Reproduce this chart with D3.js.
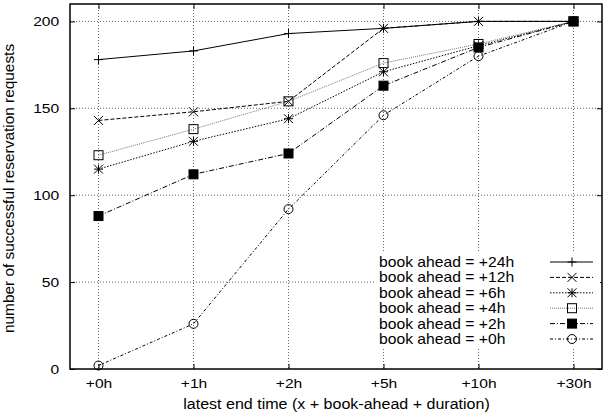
<!DOCTYPE html>
<html>
<head>
<meta charset="utf-8">
<script src="https://cdn.jsdelivr.net/npm/d3@7"></script>
<style>
  body { margin: 0; background: #fff; }
  text { font-family: "Liberation Sans", Arial, sans-serif; fill: #000; }
</style>
</head>
<body>
<div id="chart"></div>
<script>
// data
var xLabels = ["+0h", "+1h", "+2h", "+5h", "+10h", "+30h"];
var yTicks = [0, 50, 100, 150, 200];
var seriesNames = ["book ahead = +24h", "book ahead = +12h", "book ahead = +6h",
                   "book ahead = +4h", "book ahead = +2h", "book ahead = +0h"];
var ahead24 = [178, 183, 193, 196, 200, 200];
var ahead12 = [143, 148, 154, 196, 200, 200];
var ahead6  = [115, 131, 144, 171, 186, 200];
var ahead4  = [123, 138, 154, 176, 187, 200];
var ahead2  = [88, 112, 124, 163, 185, 200];
var ahead0  = [2, 26, 92, 146, 180, 200];

var seriesValues = [ahead24, ahead12, ahead6, ahead4, ahead2, ahead0];
var dashes  = [null, "4,2", "1.5,1.5", "1,1", "5,2,1,2", "3,2,1,2"];
var strokes = ["#000", "#000", "#000", "#777", "#000", "#000"];
var markers = ["plus", "cross", "star", "box", "fbox", "circle"];

var margin = {top: 4, right: 1, bottom: 50, left: 70},
  width = 603 - margin.left - margin.right,
  height = 419 - margin.top - margin.bottom;

var svg = d3.select("#chart")
  .append("svg")
    .attr("width", 603)
    .attr("height", 419)
  .append("g")
    .attr("transform", "translate(" + margin.left + "," + margin.top + ")");

// gnuplot style: x index with 0.3 padding each side
var x = d3.scaleLinear().domain([-0.3, xLabels.length - 1 + 0.3]).range([0, width]);
var y = d3.scaleLinear().domain([0, 210]).range([height, 0]);

// grid
svg.append("g").selectAll("line")
  .data(yTicks.filter(function(d) { return d > 0; }))
  .enter().append("line")
    .attr("x1", 0).attr("x2", width)
    .attr("y1", function(d) { return y(d); })
    .attr("y2", function(d) { return y(d); })
    .attr("stroke", "#666").attr("stroke-dasharray", "1,2");

svg.append("g").selectAll("line")
  .data(xLabels)
  .enter().append("line")
    .attr("x1", function(d, i) { return x(i); })
    .attr("x2", function(d, i) { return x(i); })
    .attr("y1", 0).attr("y2", height)
    .attr("stroke", "#666").attr("stroke-dasharray", "1,2");

// axes with inward ticks on all sides
var yAxis = svg.append("g")
  .call(d3.axisLeft(y).tickValues(yTicks).tickSize(-5).tickPadding(9));
var yAxisR = svg.append("g")
  .attr("transform", "translate(" + width + ",0)")
  .call(d3.axisRight(y).tickValues(yTicks).tickSize(-5).tickFormat(""));
var xAxis = svg.append("g")
  .attr("transform", "translate(0," + height + ")")
  .call(d3.axisBottom(x).tickValues(d3.range(xLabels.length)).tickSize(-5).tickPadding(10)
    .tickFormat(function(i) { return xLabels[i]; }));
var xAxisT = svg.append("g")
  .call(d3.axisTop(x).tickValues(d3.range(xLabels.length)).tickSize(-5).tickFormat(""));

[yAxis, yAxisR, xAxis, xAxisT].forEach(function(a) {
  a.select(".domain").remove();
  a.selectAll("line").attr("stroke", "#000");
  // reference labels are a bit wide and flat
  a.selectAll("text")
    .style("font-size", "13px")
    .style("font-family", "Liberation Sans, Arial, sans-serif")
    .attr("transform", "scale(1.2,1)");
});

svg.append("rect")
  .attr("x", 0).attr("y", 0)
  .attr("width", width).attr("height", height)
  .attr("fill", "none").attr("stroke", "#000").attr("stroke-width", 1.5);

// marker drawing
function drawMarker(g, type, cx, cy) {
  var s = 4.5;
  if (type === "plus" || type === "star") {
    g.append("path").attr("d", "M" + (cx - s) + "," + cy + "H" + (cx + s) + "M" + cx + "," + (cy - s) + "V" + (cy + s))
      .attr("stroke", "#000").attr("fill", "none");
  }
  if (type === "cross" || type === "star") {
    g.append("path").attr("d", "M" + (cx - s) + "," + (cy - s) + "L" + (cx + s) + "," + (cy + s) +
        "M" + (cx - s) + "," + (cy + s) + "L" + (cx + s) + "," + (cy - s))
      .attr("stroke", "#000").attr("fill", "none");
  }
  if (type === "box" || type === "fbox") {
    g.append("rect").attr("x", cx - s).attr("y", cy - s).attr("width", 2 * s).attr("height", 2 * s)
      .attr("stroke", "#000").attr("fill", type === "fbox" ? "#000" : "none");
  }
  if (type === "circle") {
    g.append("circle").attr("cx", cx).attr("cy", cy).attr("r", s)
      .attr("stroke", "#000").attr("fill", "none");
  }
}

var line = d3.line()
  .x(function(d, i) { return x(i); })
  .y(function(d) { return y(d); });

seriesValues.forEach(function(vals, k) {
  var g = svg.append("g");
  g.append("path")
    .datum(vals)
    .attr("d", line)
    .attr("fill", "none")
    .attr("stroke", strokes[k])
    .attr("stroke-width", 1)
    .attr("stroke-dasharray", dashes[k]);
  vals.forEach(function(v, i) { drawMarker(g, markers[k], x(i), y(v)); });
});

// legend (opaque key box like gnuplot)
var legX = 305, legY = 247, rowH = 15.4;
svg.append("rect")
  .attr("x", legX).attr("y", legY)
  .attr("width", 225).attr("height", 97)
  .attr("fill", "#fff");

var leg = svg.append("g").selectAll("g")
  .data(seriesNames)
  .enter().append("g")
    .attr("transform", function(d, i) { return "translate(" + (legX + 4) + "," + (legY + 11 + i * rowH) + ")"; });

leg.append("text")
  .attr("x", 0).attr("y", 5)
  .attr("transform", "scale(1.12,1)")
  .style("font-size", "14px")
  .text(function(d) { return d; });

leg.each(function(d, k) {
  var g = d3.select(this);
  g.append("line")
    .attr("x1", 171).attr("x2", 214).attr("y1", 0).attr("y2", 0)
    .attr("stroke", strokes[k]).attr("stroke-dasharray", dashes[k]);
  drawMarker(g, markers[k], 193, 0);
});

// axis titles
svg.append("text")
  .attr("transform", "translate(" + (width / 2 + 0.5) + "," + (height + 40) + ") scale(1.07,1)")
  .style("text-anchor", "middle")
  .style("font-size", "15px")
  .text("latest end time (x + book-ahead + duration)");

svg.append("text")
  .attr("transform", "translate(" + (-56) + "," + (height / 2 + 2) + "), rotate(-90)")
  .style("text-anchor", "middle")
  .style("font-size", "15.4px")
  .text("number of successful reservation requests");
</script>
</body>
</html>
